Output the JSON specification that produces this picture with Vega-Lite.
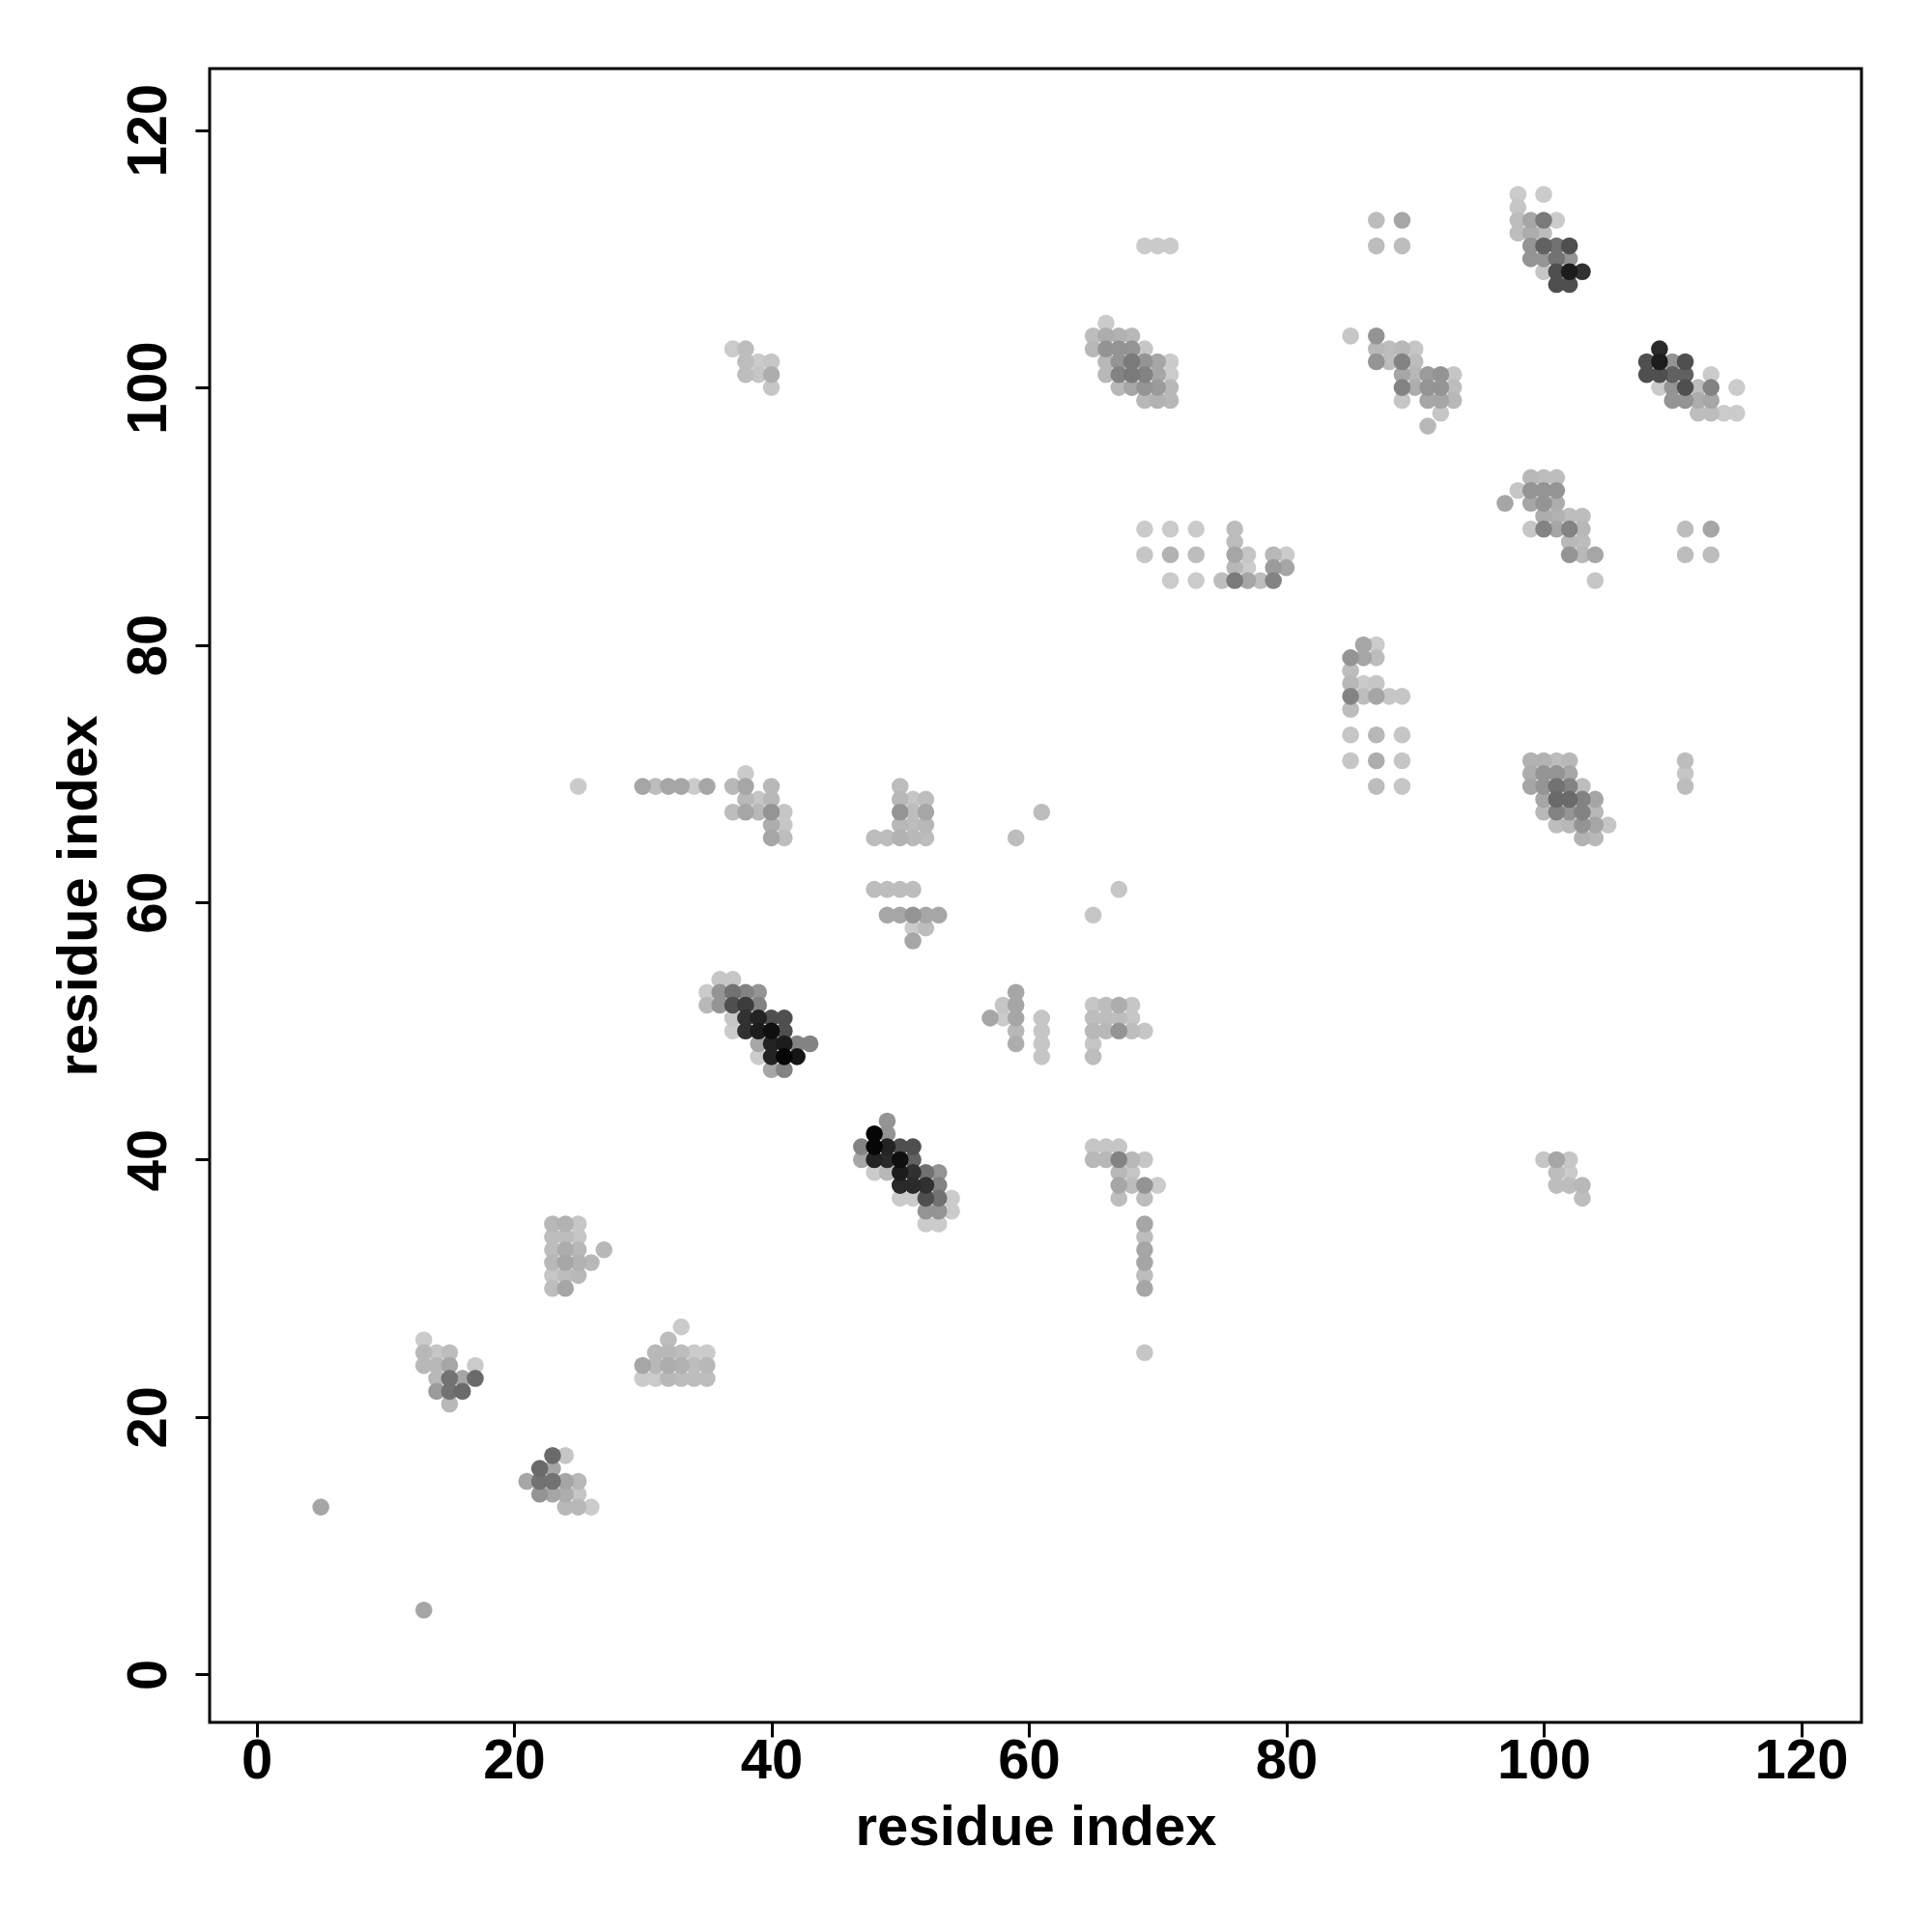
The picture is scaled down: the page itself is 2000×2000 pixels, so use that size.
{
  "$schema": "https://vega.github.io/schema/vega-lite/v6.json",
  "autosize": {"type": "none"},
  "padding": {"left": 217, "top": 71, "right": 73, "bottom": 217},
  "width": 1710,
  "height": 1712,
  "background": "white",
  "config": {
    "view": {"stroke": "black", "strokeWidth": 3},
    "axis": {
      "grid": false,
      "domain": false,
      "tickColor": "black",
      "tickWidth": 3,
      "tickSize": 15,
      "labelColor": "black",
      "labelFont": "Liberation Sans",
      "labelFontWeight": "bold",
      "labelFontSize": 58,
      "titleColor": "black",
      "titleFont": "Liberation Sans",
      "titleFontWeight": "bold",
      "titleFontSize": 58
    }
  },
  "data": {
    "values": [
      {"x":5,"y":13,"p":0.19},{"x":13,"y":5,"p":0.19},
      {"x":23,"y":35,"p":0.11},{"x":23,"y":34,"p":0.09},{"x":23,"y":33,"p":0.09},{"x":23,"y":32,"p":0.11},{"x":23,"y":31,"p":0.05},{"x":23,"y":30,"p":0.09},
      {"x":24,"y":35,"p":0.14},{"x":24,"y":34,"p":0.09},{"x":24,"y":33,"p":0.16},{"x":24,"y":32,"p":0.19},{"x":24,"y":31,"p":0.09},{"x":24,"y":30,"p":0.19},
      {"x":25,"y":35,"p":0.05},{"x":25,"y":34,"p":0.05},{"x":25,"y":33,"p":0.11},{"x":25,"y":32,"p":0.14},{"x":25,"y":31,"p":0.11},
      {"x":26,"y":32,"p":0.11},{"x":27,"y":33,"p":0.11},
      {"x":13,"y":26,"p":0.03},
      {"x":13,"y":25,"p":0.11},{"x":14,"y":25,"p":0.05},{"x":15,"y":25,"p":0.09},
      {"x":13,"y":24,"p":0.11},{"x":14,"y":24,"p":0.11},{"x":15,"y":24,"p":0.19},{"x":17,"y":24,"p":0.03},
      {"x":14,"y":23,"p":0.11},{"x":15,"y":23,"p":0.43},{"x":16,"y":23,"p":0.19},{"x":17,"y":23,"p":0.47},
      {"x":14,"y":22,"p":0.24},{"x":15,"y":22,"p":0.43},{"x":16,"y":22,"p":0.47},
      {"x":15,"y":21,"p":0.11},
      {"x":23,"y":17,"p":0.47},{"x":24,"y":17,"p":0.05},
      {"x":22,"y":16,"p":0.47},{"x":23,"y":16,"p":0.19},
      {"x":21,"y":15,"p":0.19},{"x":22,"y":15,"p":0.43},{"x":23,"y":15,"p":0.43},{"x":24,"y":15,"p":0.19},{"x":25,"y":15,"p":0.11},
      {"x":22,"y":14,"p":0.27},{"x":23,"y":14,"p":0.19},{"x":24,"y":14,"p":0.16},{"x":25,"y":14,"p":0.05},
      {"x":24,"y":13,"p":0.11},{"x":25,"y":13,"p":0.11},{"x":26,"y":13,"p":0.03},
      {"x":33,"y":27,"p":0.03},
      {"x":32,"y":26,"p":0.09},
      {"x":31,"y":25,"p":0.11},{"x":32,"y":25,"p":0.11},{"x":33,"y":25,"p":0.09},{"x":34,"y":25,"p":0.03},{"x":35,"y":25,"p":0.03},
      {"x":30,"y":24,"p":0.19},{"x":31,"y":24,"p":0.11},{"x":32,"y":24,"p":0.16},{"x":33,"y":24,"p":0.14},{"x":34,"y":24,"p":0.09},{"x":35,"y":24,"p":0.11},
      {"x":30,"y":23,"p":0.03},{"x":31,"y":23,"p":0.03},{"x":32,"y":23,"p":0.11},{"x":33,"y":23,"p":0.09},{"x":34,"y":23,"p":0.09},{"x":35,"y":23,"p":0.09},
      {"x":36,"y":54,"p":0.05},{"x":37,"y":54,"p":0.05},
      {"x":35,"y":53,"p":0.03},{"x":36,"y":53,"p":0.27},{"x":37,"y":53,"p":0.43},{"x":38,"y":53,"p":0.35},{"x":39,"y":53,"p":0.27},
      {"x":35,"y":52,"p":0.11},{"x":36,"y":52,"p":0.27},{"x":37,"y":52,"p":0.6},{"x":38,"y":52,"p":0.7},{"x":39,"y":52,"p":0.35},
      {"x":37,"y":51,"p":0.05},{"x":38,"y":51,"p":0.76},{"x":39,"y":51,"p":0.84},{"x":40,"y":51,"p":0.6},{"x":41,"y":51,"p":0.6},
      {"x":37,"y":50,"p":0.03},{"x":38,"y":50,"p":0.76},{"x":39,"y":50,"p":0.88},{"x":40,"y":50,"p":0.95},{"x":41,"y":50,"p":0.6},
      {"x":39,"y":49,"p":0.19},{"x":40,"y":49,"p":0.84},{"x":41,"y":49,"p":0.88},{"x":42,"y":49,"p":0.35},{"x":43,"y":49,"p":0.35},
      {"x":39,"y":48,"p":0.03},{"x":40,"y":48,"p":0.84},{"x":41,"y":48,"p":0.98},{"x":42,"y":48,"p":0.92},
      {"x":40,"y":47,"p":0.19},{"x":41,"y":47,"p":0.35},
      {"x":49,"y":43,"p":0.27},
      {"x":48,"y":42,"p":0.98},{"x":49,"y":42,"p":0.27},
      {"x":47,"y":41,"p":0.35},{"x":48,"y":41,"p":0.98},{"x":49,"y":41,"p":0.84},{"x":50,"y":41,"p":0.6},{"x":51,"y":41,"p":0.6},
      {"x":47,"y":40,"p":0.19},{"x":48,"y":40,"p":0.84},{"x":49,"y":40,"p":0.8},{"x":50,"y":40,"p":0.95},{"x":51,"y":40,"p":0.51},
      {"x":48,"y":39,"p":0.03},{"x":49,"y":39,"p":0.11},{"x":50,"y":39,"p":0.88},{"x":51,"y":39,"p":0.76},{"x":52,"y":39,"p":0.43},{"x":53,"y":39,"p":0.27},
      {"x":50,"y":38,"p":0.8},{"x":51,"y":38,"p":0.8},{"x":52,"y":38,"p":0.76},{"x":53,"y":38,"p":0.35},
      {"x":50,"y":37,"p":0.03},{"x":51,"y":37,"p":0.03},{"x":52,"y":37,"p":0.6},{"x":53,"y":37,"p":0.43},{"x":54,"y":37,"p":0.03},
      {"x":52,"y":36,"p":0.27},{"x":53,"y":36,"p":0.27},{"x":54,"y":36,"p":0.03},
      {"x":52,"y":35,"p":0.03},{"x":53,"y":35,"p":0.03},
      {"x":25,"y":69,"p":0.03},
      {"x":30,"y":69,"p":0.19},{"x":31,"y":69,"p":0.09},{"x":32,"y":69,"p":0.19},{"x":33,"y":69,"p":0.19},{"x":34,"y":69,"p":0.03},{"x":35,"y":69,"p":0.19},
      {"x":38,"y":70,"p":0.03},
      {"x":37,"y":69,"p":0.11},{"x":38,"y":69,"p":0.19},{"x":40,"y":69,"p":0.11},
      {"x":38,"y":68,"p":0.11},{"x":39,"y":68,"p":0.05},{"x":40,"y":68,"p":0.11},
      {"x":37,"y":67,"p":0.09},{"x":38,"y":67,"p":0.19},{"x":39,"y":67,"p":0.11},{"x":40,"y":67,"p":0.27},{"x":41,"y":67,"p":0.05},
      {"x":40,"y":66,"p":0.16},{"x":41,"y":66,"p":0.05},
      {"x":40,"y":65,"p":0.19},{"x":41,"y":65,"p":0.09},
      {"x":50,"y":69,"p":0.09},
      {"x":50,"y":68,"p":0.11},{"x":51,"y":68,"p":0.05},{"x":52,"y":68,"p":0.09},
      {"x":50,"y":67,"p":0.27},{"x":51,"y":67,"p":0.09},{"x":52,"y":67,"p":0.19},
      {"x":50,"y":66,"p":0.11},{"x":51,"y":66,"p":0.09},{"x":52,"y":66,"p":0.11},
      {"x":48,"y":65,"p":0.09},{"x":49,"y":65,"p":0.09},{"x":50,"y":65,"p":0.14},{"x":51,"y":65,"p":0.11},{"x":52,"y":65,"p":0.09},
      {"x":48,"y":61,"p":0.09},{"x":49,"y":61,"p":0.09},{"x":50,"y":61,"p":0.09},{"x":51,"y":61,"p":0.09},
      {"x":49,"y":59,"p":0.19},{"x":50,"y":59,"p":0.19},{"x":51,"y":59,"p":0.27},{"x":52,"y":59,"p":0.19},{"x":53,"y":59,"p":0.19},
      {"x":51,"y":58,"p":0.03},{"x":52,"y":58,"p":0.09},
      {"x":51,"y":57,"p":0.19},
      {"x":61,"y":67,"p":0.09},{"x":59,"y":65,"p":0.09},
      {"x":67,"y":61,"p":0.05},{"x":65,"y":59,"p":0.05},
      {"x":59,"y":53,"p":0.19},
      {"x":58,"y":52,"p":0.05},{"x":59,"y":52,"p":0.19},
      {"x":57,"y":51,"p":0.19},{"x":58,"y":51,"p":0.03},{"x":59,"y":51,"p":0.19},{"x":61,"y":51,"p":0.05},
      {"x":59,"y":50,"p":0.11},{"x":61,"y":50,"p":0.05},
      {"x":59,"y":49,"p":0.16},{"x":61,"y":49,"p":0.05},
      {"x":61,"y":48,"p":0.05},
      {"x":65,"y":52,"p":0.05},{"x":66,"y":52,"p":0.09},{"x":67,"y":52,"p":0.16},{"x":68,"y":52,"p":0.05},
      {"x":65,"y":51,"p":0.09},{"x":66,"y":51,"p":0.09},{"x":67,"y":51,"p":0.09},{"x":68,"y":51,"p":0.05},
      {"x":65,"y":50,"p":0.11},{"x":66,"y":50,"p":0.11},{"x":67,"y":50,"p":0.27},{"x":68,"y":50,"p":0.09},{"x":69,"y":50,"p":0.05},
      {"x":65,"y":49,"p":0.05},
      {"x":65,"y":48,"p":0.09},
      {"x":65,"y":41,"p":0.05},{"x":66,"y":41,"p":0.05},{"x":67,"y":41,"p":0.05},
      {"x":65,"y":40,"p":0.11},{"x":66,"y":40,"p":0.11},{"x":67,"y":40,"p":0.35},{"x":68,"y":40,"p":0.11},{"x":69,"y":40,"p":0.05},
      {"x":67,"y":39,"p":0.11},{"x":68,"y":39,"p":0.05},
      {"x":67,"y":38,"p":0.19},{"x":68,"y":38,"p":0.09},{"x":69,"y":38,"p":0.27},{"x":70,"y":38,"p":0.03},
      {"x":67,"y":37,"p":0.09},{"x":69,"y":37,"p":0.09},
      {"x":69,"y":35,"p":0.19},{"x":69,"y":34,"p":0.09},{"x":69,"y":33,"p":0.19},{"x":69,"y":32,"p":0.19},{"x":69,"y":31,"p":0.09},{"x":69,"y":30,"p":0.19},
      {"x":69,"y":25,"p":0.05},
      {"x":69,"y":111,"p":0.03},{"x":70,"y":111,"p":0.03},{"x":71,"y":111,"p":0.03},
      {"x":66,"y":105,"p":0.03},
      {"x":65,"y":104,"p":0.09},{"x":66,"y":104,"p":0.16},{"x":67,"y":104,"p":0.14},{"x":68,"y":104,"p":0.11},
      {"x":65,"y":103,"p":0.11},{"x":66,"y":103,"p":0.27},{"x":67,"y":103,"p":0.27},{"x":68,"y":103,"p":0.27},{"x":69,"y":103,"p":0.05},
      {"x":66,"y":102,"p":0.11},{"x":67,"y":102,"p":0.27},{"x":68,"y":102,"p":0.39},{"x":69,"y":102,"p":0.27},{"x":70,"y":102,"p":0.19},{"x":71,"y":102,"p":0.03},
      {"x":66,"y":101,"p":0.11},{"x":67,"y":101,"p":0.35},{"x":68,"y":101,"p":0.39},{"x":69,"y":101,"p":0.35},{"x":70,"y":101,"p":0.19},{"x":71,"y":101,"p":0.03},
      {"x":67,"y":100,"p":0.11},{"x":68,"y":100,"p":0.19},{"x":69,"y":100,"p":0.27},{"x":70,"y":100,"p":0.24},{"x":71,"y":100,"p":0.11},
      {"x":69,"y":99,"p":0.11},{"x":70,"y":99,"p":0.14},{"x":71,"y":99,"p":0.11},
      {"x":69,"y":89,"p":0.03},{"x":71,"y":89,"p":0.03},{"x":73,"y":89,"p":0.03},{"x":76,"y":89,"p":0.09},
      {"x":76,"y":88,"p":0.09},
      {"x":69,"y":87,"p":0.05},{"x":71,"y":87,"p":0.14},{"x":73,"y":87,"p":0.09},{"x":76,"y":87,"p":0.19},{"x":77,"y":87,"p":0.05},{"x":79,"y":87,"p":0.11},{"x":80,"y":87,"p":0.03},
      {"x":76,"y":86,"p":0.11},{"x":77,"y":86,"p":0.03},{"x":79,"y":86,"p":0.24},{"x":80,"y":86,"p":0.19},
      {"x":71,"y":85,"p":0.03},{"x":73,"y":85,"p":0.03},{"x":75,"y":85,"p":0.09},{"x":76,"y":85,"p":0.39},{"x":77,"y":85,"p":0.19},{"x":78,"y":85,"p":0.09},{"x":79,"y":85,"p":0.35},
      {"x":87,"y":113,"p":0.09},{"x":89,"y":113,"p":0.19},{"x":87,"y":111,"p":0.09},{"x":89,"y":111,"p":0.09},
      {"x":85,"y":104,"p":0.05},{"x":87,"y":104,"p":0.27},
      {"x":87,"y":103,"p":0.11},{"x":88,"y":103,"p":0.09},{"x":89,"y":103,"p":0.11},{"x":90,"y":103,"p":0.05},
      {"x":87,"y":102,"p":0.27},{"x":88,"y":102,"p":0.09},{"x":89,"y":102,"p":0.35},{"x":90,"y":102,"p":0.09},
      {"x":89,"y":101,"p":0.19},{"x":90,"y":101,"p":0.11},{"x":91,"y":101,"p":0.24},{"x":92,"y":101,"p":0.27},{"x":93,"y":101,"p":0.05},
      {"x":89,"y":100,"p":0.35},{"x":90,"y":100,"p":0.16},{"x":91,"y":100,"p":0.27},{"x":92,"y":100,"p":0.27},{"x":93,"y":100,"p":0.09},
      {"x":89,"y":99,"p":0.05},{"x":91,"y":99,"p":0.19},{"x":92,"y":99,"p":0.19},{"x":93,"y":99,"p":0.11},
      {"x":92,"y":98,"p":0.05},
      {"x":91,"y":97,"p":0.11},
      {"x":86,"y":80,"p":0.19},{"x":87,"y":80,"p":0.03},
      {"x":85,"y":79,"p":0.27},{"x":86,"y":79,"p":0.19},{"x":87,"y":79,"p":0.09},
      {"x":85,"y":78,"p":0.09},
      {"x":85,"y":77,"p":0.11},{"x":86,"y":77,"p":0.03},{"x":87,"y":77,"p":0.05},
      {"x":85,"y":76,"p":0.35},{"x":86,"y":76,"p":0.09},{"x":87,"y":76,"p":0.19},{"x":88,"y":76,"p":0.05},{"x":89,"y":76,"p":0.05},
      {"x":85,"y":75,"p":0.09},
      {"x":85,"y":73,"p":0.05},{"x":87,"y":73,"p":0.11},{"x":89,"y":73,"p":0.05},
      {"x":85,"y":71,"p":0.05},{"x":87,"y":71,"p":0.16},{"x":89,"y":71,"p":0.05},
      {"x":87,"y":69,"p":0.09},{"x":89,"y":69,"p":0.05},
      {"x":98,"y":115,"p":0.03},{"x":100,"y":115,"p":0.03},
      {"x":98,"y":114,"p":0.05},
      {"x":98,"y":113,"p":0.09},{"x":99,"y":113,"p":0.19},{"x":100,"y":113,"p":0.39},{"x":101,"y":113,"p":0.03},
      {"x":98,"y":112,"p":0.09},{"x":99,"y":112,"p":0.16},{"x":100,"y":112,"p":0.09},
      {"x":99,"y":111,"p":0.27},{"x":100,"y":111,"p":0.51},{"x":101,"y":111,"p":0.43},{"x":102,"y":111,"p":0.6},
      {"x":99,"y":110,"p":0.27},{"x":100,"y":110,"p":0.27},{"x":101,"y":110,"p":0.43},{"x":102,"y":110,"p":0.27},
      {"x":100,"y":109,"p":0.05},{"x":101,"y":109,"p":0.6},{"x":102,"y":109,"p":0.88},{"x":103,"y":109,"p":0.76},
      {"x":101,"y":108,"p":0.6},{"x":102,"y":108,"p":0.6},
      {"x":109,"y":103,"p":0.8},
      {"x":108,"y":102,"p":0.6},{"x":109,"y":102,"p":0.88},{"x":110,"y":102,"p":0.27},{"x":111,"y":102,"p":0.6},
      {"x":108,"y":101,"p":0.6},{"x":109,"y":101,"p":0.6},{"x":110,"y":101,"p":0.51},{"x":111,"y":101,"p":0.51},{"x":113,"y":101,"p":0.03},
      {"x":109,"y":100,"p":0.03},{"x":110,"y":100,"p":0.27},{"x":111,"y":100,"p":0.6},{"x":112,"y":100,"p":0.09},{"x":113,"y":100,"p":0.35},{"x":115,"y":100,"p":0.03},
      {"x":110,"y":99,"p":0.27},{"x":111,"y":99,"p":0.27},{"x":112,"y":99,"p":0.16},{"x":113,"y":99,"p":0.19},
      {"x":112,"y":98,"p":0.09},{"x":113,"y":98,"p":0.09},{"x":114,"y":98,"p":0.03},{"x":115,"y":98,"p":0.03},
      {"x":99,"y":93,"p":0.11},{"x":100,"y":93,"p":0.09},{"x":101,"y":93,"p":0.09},
      {"x":98,"y":92,"p":0.05},{"x":99,"y":92,"p":0.27},{"x":100,"y":92,"p":0.27},{"x":101,"y":92,"p":0.27},
      {"x":97,"y":91,"p":0.19},{"x":99,"y":91,"p":0.19},{"x":100,"y":91,"p":0.27},{"x":101,"y":91,"p":0.16},
      {"x":100,"y":90,"p":0.16},{"x":101,"y":90,"p":0.14},{"x":102,"y":90,"p":0.09},{"x":103,"y":90,"p":0.09},
      {"x":99,"y":89,"p":0.05},{"x":100,"y":89,"p":0.35},{"x":101,"y":89,"p":0.19},{"x":102,"y":89,"p":0.35},{"x":103,"y":89,"p":0.11},
      {"x":102,"y":88,"p":0.11},{"x":103,"y":88,"p":0.09},
      {"x":102,"y":87,"p":0.27},{"x":103,"y":87,"p":0.11},{"x":104,"y":87,"p":0.19},
      {"x":104,"y":85,"p":0.05},
      {"x":111,"y":89,"p":0.09},{"x":113,"y":89,"p":0.19},{"x":111,"y":87,"p":0.09},{"x":113,"y":87,"p":0.09},
      {"x":99,"y":71,"p":0.14},{"x":100,"y":71,"p":0.14},{"x":101,"y":71,"p":0.09},{"x":102,"y":71,"p":0.11},
      {"x":99,"y":70,"p":0.16},{"x":100,"y":70,"p":0.27},{"x":101,"y":70,"p":0.27},{"x":102,"y":70,"p":0.19},
      {"x":99,"y":69,"p":0.19},{"x":100,"y":69,"p":0.27},{"x":101,"y":69,"p":0.43},{"x":102,"y":69,"p":0.35},{"x":103,"y":69,"p":0.09},
      {"x":100,"y":68,"p":0.19},{"x":101,"y":68,"p":0.47},{"x":102,"y":68,"p":0.47},{"x":103,"y":68,"p":0.35},{"x":104,"y":68,"p":0.19},
      {"x":100,"y":67,"p":0.11},{"x":101,"y":67,"p":0.35},{"x":102,"y":67,"p":0.27},{"x":103,"y":67,"p":0.35},{"x":104,"y":67,"p":0.11},
      {"x":101,"y":66,"p":0.09},{"x":102,"y":66,"p":0.11},{"x":103,"y":66,"p":0.27},{"x":104,"y":66,"p":0.19},{"x":105,"y":66,"p":0.05},
      {"x":103,"y":65,"p":0.14},{"x":104,"y":65,"p":0.11},
      {"x":111,"y":71,"p":0.09},{"x":111,"y":70,"p":0.05},{"x":111,"y":69,"p":0.09},
      {"x":37,"y":103,"p":0.03},{"x":38,"y":103,"p":0.09},
      {"x":38,"y":102,"p":0.09},{"x":39,"y":102,"p":0.03},{"x":40,"y":102,"p":0.05},
      {"x":38,"y":101,"p":0.09},{"x":39,"y":101,"p":0.05},{"x":40,"y":101,"p":0.16},
      {"x":40,"y":100,"p":0.05},
      {"x":100,"y":40,"p":0.05},{"x":101,"y":40,"p":0.19},{"x":102,"y":40,"p":0.05},
      {"x":101,"y":39,"p":0.09},{"x":102,"y":39,"p":0.03},
      {"x":101,"y":38,"p":0.09},{"x":102,"y":38,"p":0.09},{"x":103,"y":38,"p":0.11},
      {"x":103,"y":37,"p":0.09}
    ]
  },
  "mark": {"type": "point", "filled": true, "shape": "circle", "size": 310, "opacity": 1, "strokeWidth": 0},
  "encoding": {
    "x": {
      "field": "x", "type": "quantitative",
      "scale": {"domain": [-3.64, 124.69], "nice": false, "zero": false},
      "axis": {
        "values": [0, 20, 40, 60, 80, 100, 120],
        "title": "residue index",
        "labelBaseline": "alphabetic",
        "labelPadding": 42,
        "titleBaseline": "alphabetic",
        "titleX": 855,
        "titleY": 126,
        "labelFlush": false,
        "labelOverlap": false
      }
    },
    "y": {
      "field": "y", "type": "quantitative",
      "scale": {"domain": [-3.73, 124.78], "nice": false, "zero": false},
      "axis": {
        "values": [0, 20, 40, 60, 80, 100, 120],
        "title": "residue index",
        "labelAngle": -90,
        "labelAlign": "center",
        "labelBaseline": "alphabetic",
        "labelPadding": 31,
        "titleAngle": -90,
        "titleBaseline": "alphabetic",
        "titleAlign": "center",
        "titleX": -118,
        "titleY": 856,
        "labelFlush": false,
        "labelOverlap": false
      }
    },
    "color": {
      "field": "p", "type": "quantitative",
      "scale": {"domain": [0, 1], "range": ["#d2d2d2", "#000000"]},
      "legend": null
    },
    "order": {"field": "p", "type": "quantitative"}
  }
}
